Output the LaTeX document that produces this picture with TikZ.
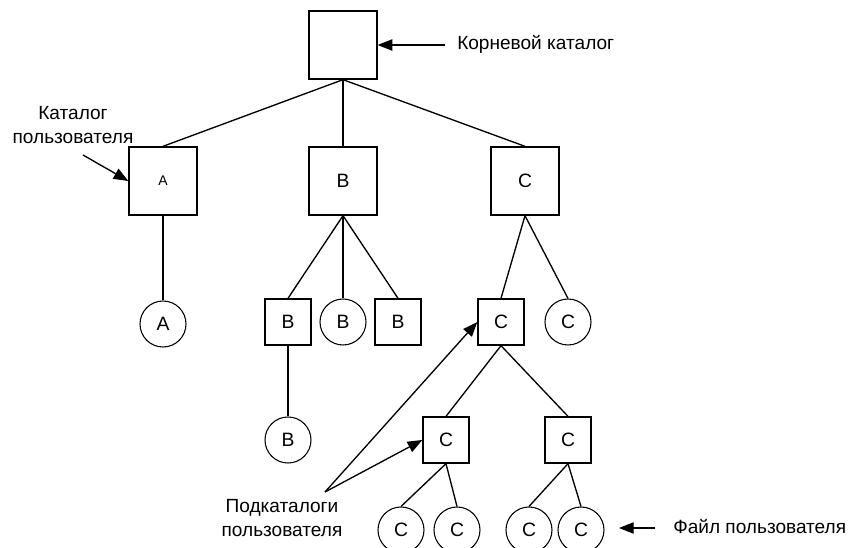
\documentclass[tikz,border=0pt]{standalone}
\usepackage{fontspec}
\setmainfont{Liberation Sans}
\usetikzlibrary{arrows.meta,shadows}

\tikzset{
  dir/.style={draw, line width=1pt, fill=white, inner sep=0pt,
    drop shadow={shadow xshift=1pt, shadow yshift=-1pt, fill=black!25, opacity=0.6}},
  bigdir/.style={dir, minimum size=51pt, font=\fontsize{14.5}{16}\selectfont},
  smalldir/.style={dir, minimum size=34.5pt, font=\fontsize{14.5}{16}\selectfont},
  leaf/.style={draw, circle, line width=0.8pt, fill=white, inner sep=0pt,
    minimum size=34.5pt, font=\fontsize{14.5}{16}\selectfont},
  edge/.style={line width=1pt},
  pointer/.style={line width=1pt, -{Triangle[length=11pt,width=8.5pt]}},
  label/.style={font=\fontsize{14.3}{18}\selectfont, inner sep=0pt, align=center}
}

\begin{document}
\begin{tikzpicture}[x=0.75pt,y=-0.75pt]
\useasboundingbox (0,0) rectangle (850,548);
\clip (0,0) rectangle (850,548);

% root and user directories
\node[bigdir] (root) at (343,45) {};
\node[bigdir, font=\fontsize{10.5}{12}\selectfont] (A) at (163,181) {A};
\node[bigdir] (B) at (343,181) {B};
\node[bigdir] (C) at (525,181) {C};

% second level
\node[leaf] (Af) at (163,324) {A};
\node[smalldir] (Bd1) at (288,322) {B};
\node[leaf] (Bf) at (343,322) {B};
\node[smalldir] (Bd2) at (398,322) {B};
\node[smalldir] (Cd) at (501,322) {C};
\node[leaf] (Cf) at (568,322) {C};

% third level
\node[leaf] (Bf2) at (288,440) {B};
\node[smalldir] (Cd1) at (446,440) {C};
\node[smalldir] (Cd2) at (568,440) {C};

% files at the bottom
\node[leaf] (Cf1) at (401,530) {C};
\node[leaf] (Cf2) at (457,530) {C};
\node[leaf] (Cf3) at (529,530) {C};
\node[leaf] (Cf4) at (581,530) {C};

% tree edges
\draw[edge] (root.south) -- (A.north);
\draw[edge] (root.south) -- (B.north);
\draw[edge] (root.south) -- (C.north);
\draw[edge] (A.south) -- (Af.north);
\draw[edge] (B.south) -- (Bd1.north);
\draw[edge] (B.south) -- (Bf.north);
\draw[edge] (B.south) -- (Bd2.north);
\draw[edge] (Bd1.south) -- (Bf2.north);
\draw[edge] (C.south) -- (Cd.north);
\draw[edge] (C.south) -- (Cf.north);
\draw[edge] (Cd.south) -- (Cd1.north);
\draw[edge] (Cd.south) -- (Cd2.north);
\draw[edge] (Cd1.south) -- (Cf1.north);
\draw[edge] (Cd1.south) -- (Cf2.north);
\draw[edge] (Cd2.south) -- (Cf3.north);
\draw[edge] (Cd2.south) -- (Cf4.north);

% annotations
\node[label, anchor=west] (lroot) at (457,44) {Корневой каталог};
\coordinate (proot) at (445,45);
\draw[pointer] (proot) -- (root.east);

\node[label] (luser) at (73,125) {Каталог\\пользователя};
\coordinate (puser) at (83,155);
\draw[pointer] (puser) -- (A.west);

\node[label] (lsub) at (282,518) {Подкаталоги\\пользователя};
\coordinate (psub) at (325,492);
\draw[pointer] (psub) -- (Cd.west);
\draw[pointer] (psub) -- (Cd1.west);

\node[label, anchor=west] (lfile) at (673,527) {Файл пользователя};
\coordinate (pfile) at (655,528);
\coordinate (tfile) at (619,528);
\draw[pointer] (pfile) -- (tfile);
\end{tikzpicture}
\end{document}
